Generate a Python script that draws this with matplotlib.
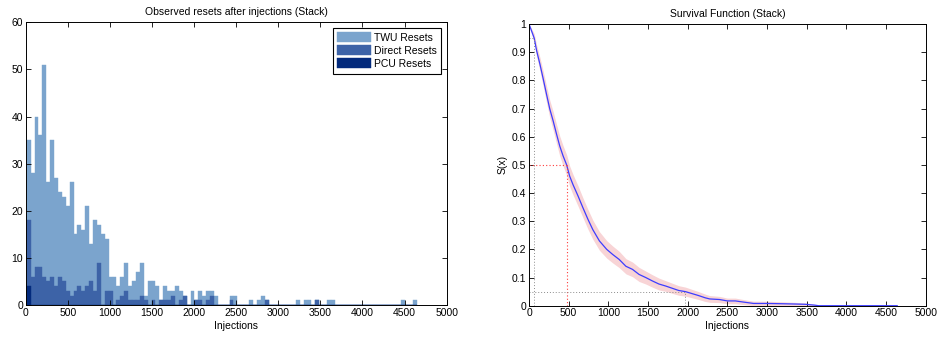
import numpy as np
import matplotlib
matplotlib.use("Agg")
import matplotlib.pyplot as plt

plt.rcParams['font.family'] = ['Liberation Sans', 'DejaVu Sans']
plt.rcParams['font.size'] = 7.5

# ---------------- histogram data (100 bins over the injection range) ----------------
bin_lo, bin_hi, n_bins = 12, 4644, 100

# reset counts per bin; layers are drawn from zero, back to front
twu_resets = [35, 28, 40, 36, 51, 26, 35, 27, 24, 23,
              21, 26, 15, 17, 16, 21, 13, 18, 17, 15,
              14, 6, 6, 4, 6, 9, 4, 5, 7, 9,
              2, 5, 5, 4, 1, 4, 3, 3, 4, 3,
              2, 0, 3, 1, 3, 2, 3, 3, 2, 0,
              0, 0, 2, 2, 0, 0, 0, 1, 0, 1,
              2, 1, 0, 0, 0, 0, 0, 0, 0, 1,
              0, 1, 1, 0, 1, 0, 0, 1, 1, 0,
              0, 0, 0, 0, 0, 0, 0, 0, 0, 0,
              0, 0, 0, 0, 0, 0, 1, 0, 0, 1]
direct_resets = [18, 6, 8, 8, 6, 5, 6, 4, 6, 5,
                 3, 2, 3, 4, 3, 4, 5, 3, 9, 0,
                 3, 3, 0, 1, 2, 3, 1, 1, 1, 2,
                 1, 0, 1, 0, 1, 1, 1, 2, 0, 1,
                 2, 0, 0, 1, 1, 0, 1, 2, 0, 0,
                 0, 0, 1, 0, 0, 0, 0, 0, 0, 0,
                 0, 1, 0, 0, 0, 0, 0, 0, 0, 0,
                 0, 0, 0, 0, 1, 0, 0, 0, 0, 0,
                 0, 0, 0, 0, 0, 0, 0, 0, 0, 0,
                 0, 0, 0, 0, 0, 0, 0, 0, 0, 0]
pcu_resets = [4] + [0] * 99

series_labels = ["TWU Resets", "Direct Resets", "PCU Resets"]
series_colors = ["#7ba4cd", "#3d63a7", "#032a7c"]

# ---------------- survival function ----------------
surv_x = [0, 65, 96, 137, 179, 221, 262, 304, 346, 387,
          429, 474, 512, 554, 617, 679, 742, 804, 887, 979,
          1054, 1137, 1221, 1304, 1387, 1471, 1554, 1637, 1721, 1804,
          1887, 1971, 2054, 2137, 2221, 2277, 2400, 2500, 2600, 2700,
          2830, 3000, 3190, 3350, 3480, 3600, 3650, 4640]
surv_s = [1.0, 0.95, 0.905, 0.858, 0.805, 0.75, 0.698, 0.656, 0.61, 0.567,
          0.532, 0.5, 0.46, 0.43, 0.39, 0.348, 0.307, 0.27, 0.23, 0.2,
          0.182, 0.164, 0.14, 0.129, 0.111, 0.1, 0.088, 0.077, 0.07, 0.062,
          0.054, 0.05, 0.043, 0.036, 0.028, 0.024, 0.022, 0.017, 0.017, 0.013,
          0.008, 0.008, 0.007, 0.006, 0.005, 0.002, 0.0, 0.0]
# half-width of the confidence band around S(x)
surv_ci = [0.0, 0.016, 0.02, 0.024, 0.027, 0.029, 0.031, 0.033, 0.034, 0.035,
           0.036, 0.036, 0.036, 0.036, 0.036, 0.035, 0.035, 0.034, 0.033, 0.031,
           0.03, 0.029, 0.027, 0.026, 0.025, 0.023, 0.022, 0.021, 0.019, 0.018,
           0.017, 0.016, 0.015, 0.014, 0.013, 0.012, 0.011, 0.01, 0.01, 0.009,
           0.008, 0.008, 0.007, 0.006, 0.005, 0.003, 0.0, 0.0]
q95_x, median_x, q05_x = 65, 474, 1971

x_ticks = list(range(0, 5001, 500))

fig = plt.figure(figsize=(9.41, 3.41), dpi=100)

# ---------------- left: stacked reset histogram ----------------
ax1 = fig.add_axes([0.0273, 0.1056, 0.4474, 0.829])
edges = np.linspace(bin_lo, bin_hi, n_bins + 1)
centers = (edges[:-1] + edges[1:]) / 2
width = edges[1] - edges[0]
for vals, lab, col in zip([twu_resets, direct_resets, pcu_resets], series_labels, series_colors):
    ax1.bar(centers, vals, width=width, color=col, edgecolor=col, linewidth=0.3, label=lab)

ax1.set_xlim(0, 5000)
ax1.set_ylim(0, 60)
ax1.set_xticks(x_ticks)
ax1.set_yticks(range(0, 61, 10))
ax1.set_title("Observed resets after injections (Stack)", fontsize=7.5, pad=5)
ax1.set_xlabel("Injections", labelpad=2)
leg = ax1.legend(loc="upper right", fancybox=False, edgecolor="black", framealpha=1,
                 borderaxespad=0.5, handlelength=3.2, handleheight=1.1,
                 labelspacing=0.25, handletextpad=0.3, borderpad=0.45, fontsize=7.5)
leg.get_frame().set_linewidth(0.8)

# ---------------- right: survival function ----------------
ax2 = fig.add_axes([0.5622, 0.1035, 0.4216, 0.826])
s = np.array(surv_s)
ci = np.array(surv_ci)
ax2.fill_between(surv_x, s - ci, s + ci, color="#f8d4d6", linewidth=0)
ax2.plot(surv_x, surv_s, color="#3d3dff", linewidth=0.9)

grey = "#8c8c8c"
red = "#ff3b3b"
dots = (0, (1, 2))
ax2.plot([0, q95_x], [0.95, 0.95], ls=dots, color=grey, lw=0.7)
ax2.plot([q95_x, q95_x], [0, 0.95], ls=dots, color=grey, lw=0.7)
ax2.plot([0, median_x], [0.5, 0.5], ls=dots, color=red, lw=0.8)
ax2.plot([median_x, median_x], [0, 0.5], ls=dots, color=red, lw=0.8)
ax2.plot([0, q05_x], [0.05, 0.05], ls=dots, color=grey, lw=0.7)
ax2.plot([q05_x, q05_x], [0, 0.05], ls=dots, color=grey, lw=0.7)

ax2.set_xlim(0, 5000)
ax2.set_ylim(0, 1)
ax2.set_xticks(x_ticks)
ax2.set_yticks(np.round(np.arange(0, 1.01, 0.1), 1))
ax2.set_yticklabels(["0", "0.1", "0.2", "0.3", "0.4", "0.5", "0.6", "0.7", "0.8", "0.9", "1"])
ax2.set_title("Survival Function (Stack)", fontsize=7.5, pad=5)
ax2.set_xlabel("Injections", labelpad=2)
ax2.set_ylabel("S(x)", labelpad=3)

for ax in (ax1, ax2):
    ax.tick_params(direction="in", top=True, right=True, length=3.5, width=0.6, pad=2,
                   labelsize=7.5)
    for sp in ax.spines.values():
        sp.set_linewidth(0.7)

fig.savefig("out.png", dpi=100)
